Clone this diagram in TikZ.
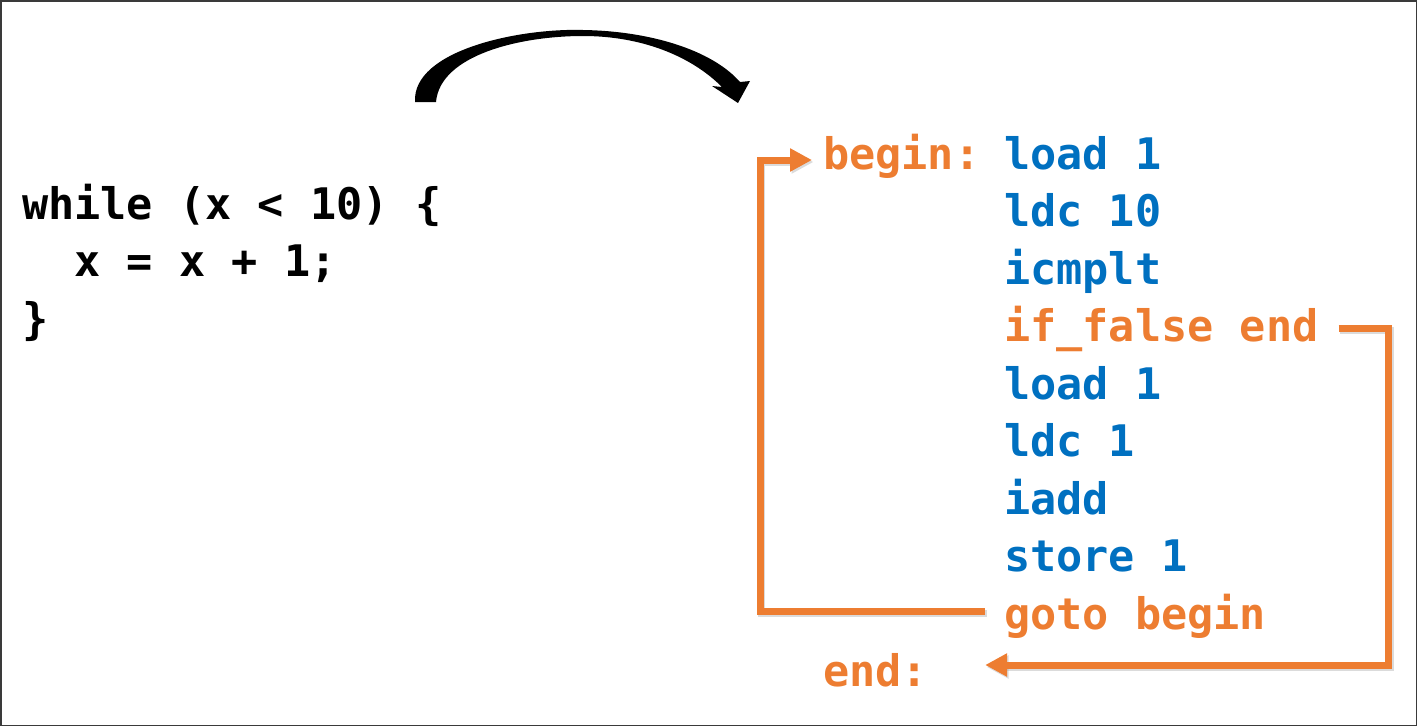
\documentclass[tikz,border=0pt]{standalone}
\usepackage{fontspec}
\usetikzlibrary{arrows.meta}
\newfontfamily\codefont{DejaVu Sans Mono}
\definecolor{codeorange}{HTML}{ED7D31}
\definecolor{codeblue}{HTML}{0070C0}
\definecolor{frame}{HTML}{3A3A3A}
\tikzset{
  code/.style={anchor=base west, inner sep=0pt, font=\codefont\bfseries\fontsize{43.5}{57.5}\selectfont},
  src/.style={code, text=black},
  ins/.style={code, text=codeblue},
  lbl/.style={code, text=codeorange},
  flow/.style={draw=codeorange, line width=7pt, line join=miter,
    -{Triangle[length=22pt,width=22pt]},
    preaction={draw=black!40, opacity=0.35, line width=7pt,
      transform canvas={shift={(1.5pt,-2pt)}}}},
}
\begin{document}
\begin{tikzpicture}[x=1pt,y=-1pt]
\path[use as bounding box] (0,0) rectangle (1417,726);
\draw[frame, line width=1.5pt] (0.75,0.75) rectangle (1416.25,725.25);

% source code
\node[src] (while) at (22,219) {while (x < 10) \{};
\node[src] (body) at (74.4,276.5) {x = x + 1;};
\node[src] (close) at (22,334) {\}};

% big curved arrow
\fill[black] (415,102) .. controls (412,50) and (520,28) .. (583,30)
  .. controls (650,31) and (712,50) .. (740,82)
  -- (750,81) -- (738,103) -- (712,86) -- (722,87)
  .. controls (690,55) and (640,36) .. (583,36)
  .. controls (520,36) and (440,55) .. (436,102) -- cycle;

% bytecode
\node[lbl] (beginlbl) at (823,169) {begin:};
\node[ins] (l1) at (1004,169) {load 1};
\node[ins] (l2) at (1004,226.5) {ldc 10};
\node[ins] (l3) at (1004,284) {icmplt};
\node[lbl] (iffalse) at (1004,341.5) {if\_false end};
\node[ins] (l5) at (1004,399) {load 1};
\node[ins] (l6) at (1004,456.5) {ldc 1};
\node[ins] (l7) at (1004,514) {iadd};
\node[ins] (l8) at (1004,571.5) {store 1};
\node[lbl] (goto) at (1004,629) {goto begin};
\node[lbl] (endlbl) at (823,686.5) {end:};

% control-flow arrows
\draw[flow] ([xshift=-19pt,yshift=18pt]goto.base west) -- ++(-225,0)
  |- ([xshift=-11pt,yshift=9pt]beginlbl.base west);
\draw[flow] ([xshift=20pt,yshift=13.5pt]iffalse.base east) -- ++(50,0)
  |- ([xshift=57pt,yshift=21.5pt]endlbl.base east);
\end{tikzpicture}
\end{document}
